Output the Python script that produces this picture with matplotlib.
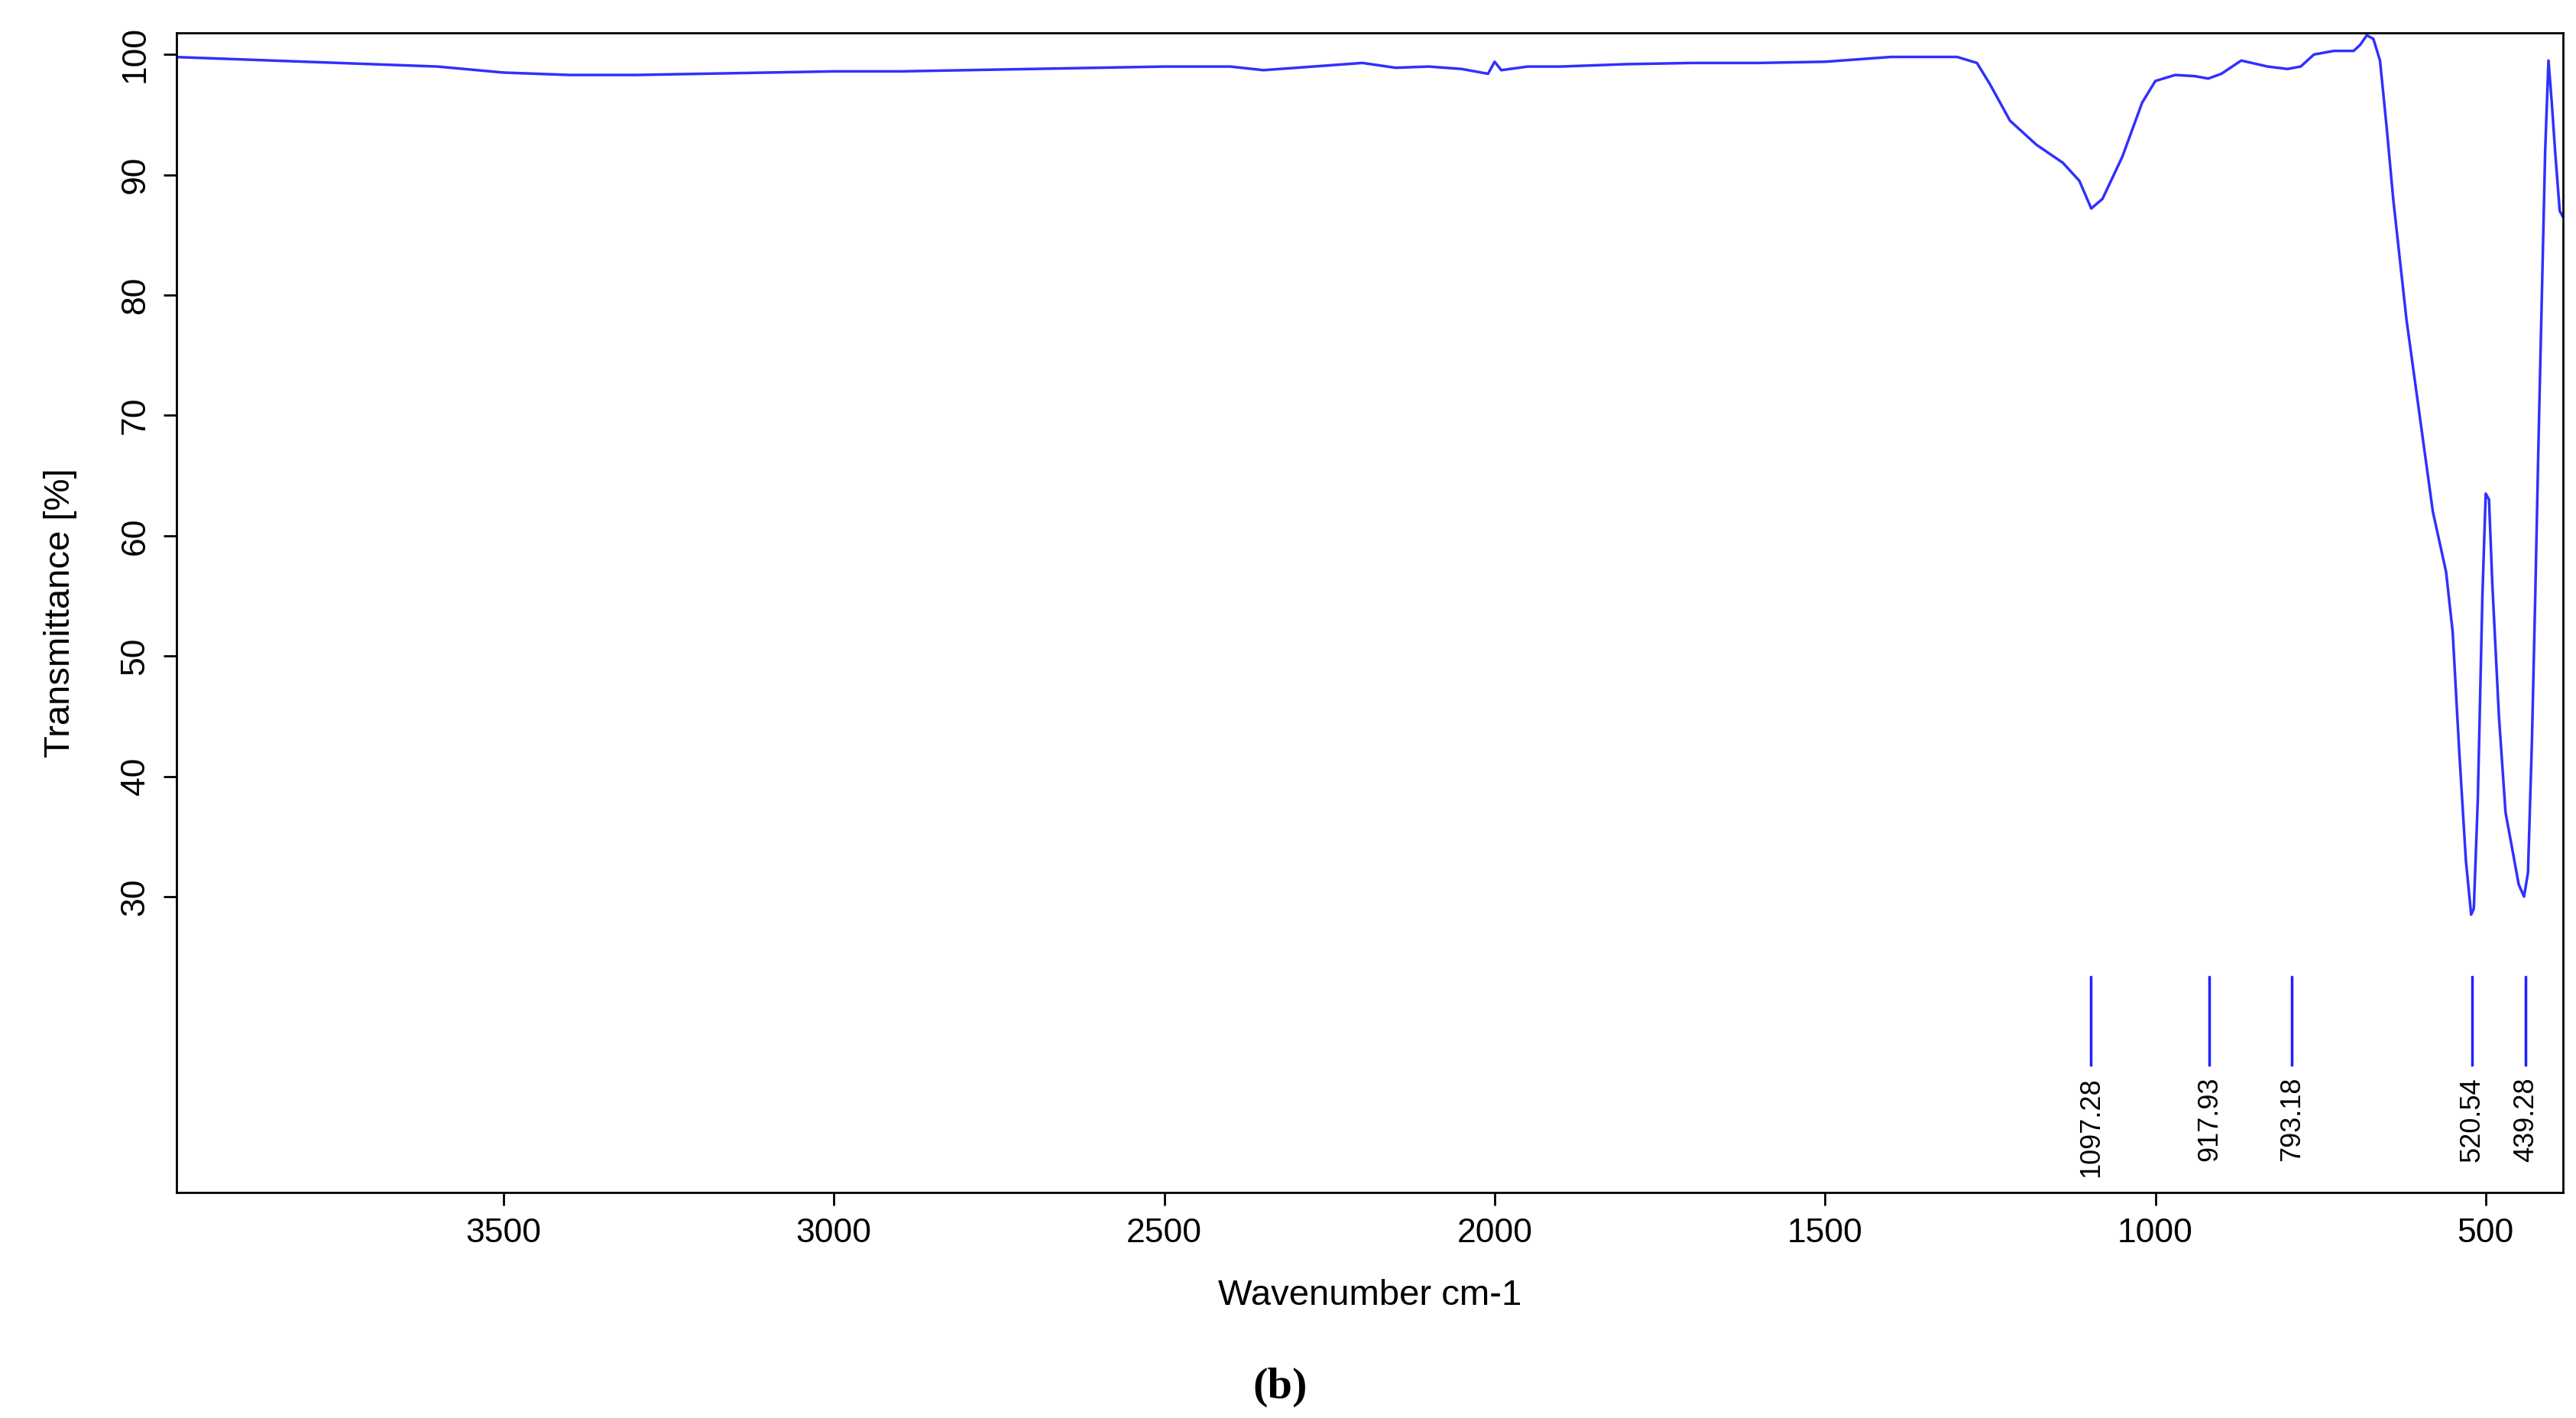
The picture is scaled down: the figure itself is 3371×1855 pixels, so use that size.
import matplotlib
matplotlib.use("Agg")
import matplotlib.pyplot as plt
import numpy as np

wavenumber = [4000, 3900, 3800, 3700, 3600, 3500, 3400, 3300, 3200, 3100, 3000, 2900, 2800, 2700,
              2600, 2500, 2400, 2350, 2300, 2200, 2150, 2100, 2050, 2010, 2000, 1990, 1950, 1900,
              1800, 1700, 1600, 1500, 1400, 1300, 1270, 1250, 1220, 1180, 1140, 1115, 1097, 1080,
              1050, 1020, 1000, 970, 940, 920, 900, 870, 830, 800, 780, 760, 730, 700, 690, 680,
              670, 660, 650, 640, 620, 600, 580, 560, 550, 540, 530, 522, 518, 512, 505, 500,
              495, 490, 480, 470, 460, 450, 442, 436, 430, 425, 420, 415, 410, 405, 400, 395, 388, 383]
transmittance = [99.8, 99.6, 99.4, 99.2, 99.0, 98.5, 98.3, 98.3, 98.4, 98.5, 98.6, 98.6, 98.7, 98.8,
                 98.9, 99.0, 99.0, 98.7, 98.9, 99.3, 98.9, 99.0, 98.8, 98.4, 99.4, 98.7, 99.0, 99.0,
                 99.2, 99.3, 99.3, 99.4, 99.8, 99.8, 99.3, 97.5, 94.5, 92.5, 91.0, 89.5, 87.2, 88.0,
                 91.5, 96.0, 97.8, 98.3, 98.2, 98.0, 98.4, 99.5, 99.0, 98.8, 99.0, 100.0, 100.3, 100.3,
                 100.8, 101.6, 101.3, 99.5, 94.0, 88.0, 78.0, 70.0, 62.0, 57.0, 52.0, 42.0, 33.0, 28.5,
                 29.0, 38.0, 55.0, 63.5, 63.0, 56.0, 45.0, 37.0, 34.0, 31.0, 30.0, 32.0, 43.0, 55.0,
                 68.0, 80.0, 92.0, 99.5, 96.0, 92.0, 87.0, 86.5]
peaks = [1097.28, 917.93, 793.18, 520.54, 439.28]
peak_labels = ["1097.28", "917.93", "793.18", "520.54", "439.28"]
xticks = [3500, 3000, 2500, 2000, 1500, 1000, 500]
yticks = [30, 40, 50, 60, 70, 80, 90, 100]

plt.rcParams['font.family'] = ['Liberation Sans', 'DejaVu Sans']
fig = plt.figure(figsize=(33.71, 18.55), dpi=100)
ax = fig.add_axes([231/3371, 1-1560/1855, (3354-231)/3371, (1560-43)/1855])
ax.plot(wavenumber, transmittance, color='#3030ff', lw=2.5)
ax.set_xlim(3995, 383)
ax.set_ylim(5.4, 101.8)
for p, lab in zip(peaks, peak_labels):
    ax.plot([p, p], [16.0, 23.3], color='#2020ff', lw=2.5)
    ax.text(p, 15.0, lab, rotation=90, ha='center', va='top', fontsize=26)
ax.set_xticks(xticks)
ax.set_yticks(yticks)
ax.tick_params(labelsize=32, width=2, length=12, pad=12)
for lab in ax.get_yticklabels():
    lab.set_rotation(90)
    lab.set_va('center')
for s in ax.spines.values():
    s.set_linewidth(2)
ax.set_xlabel("Wavenumber cm-1", fontsize=34, labelpad=28)
ax.set_ylabel("Transmittance [%]", fontsize=34, labelpad=40)
fig.text(0.497, 1-1815/1855, "(b)", ha='center', va='center', fontsize=42,
         fontweight='bold', family='Liberation Serif')
fig.savefig("out.png", dpi=100)
